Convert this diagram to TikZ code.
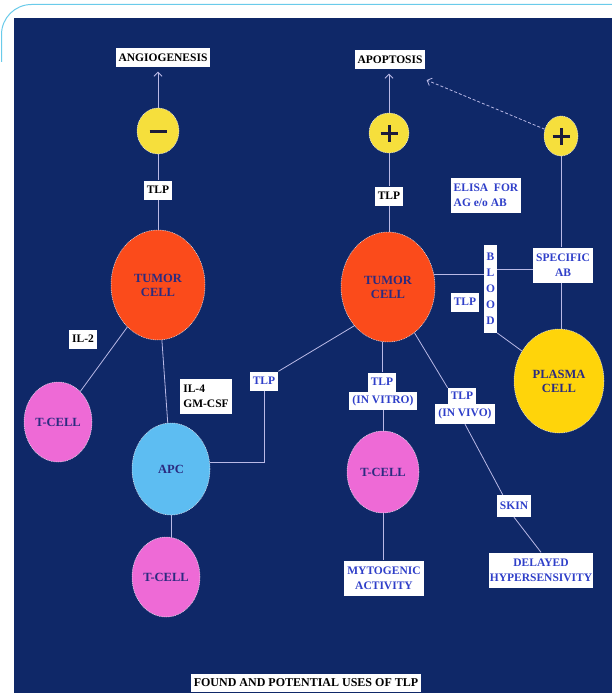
\documentclass[tikz,border=0pt]{standalone}
\usepackage{fontspec}
\setmainfont{Liberation Serif}
\usetikzlibrary{shapes.geometric,arrows.meta}
\definecolor{bg}{HTML}{0F2868}
\definecolor{framec}{HTML}{6ACBEA}
\definecolor{tumorc}{HTML}{FB4B1B}
\definecolor{signy}{HTML}{F6DF3C}
\definecolor{plasmay}{HTML}{FFD40A}
\definecolor{pinkc}{HTML}{EE6AD6}
\definecolor{apcc}{HTML}{5DBDF2}
\definecolor{linec}{HTML}{B9B9E6}
\definecolor{celltext}{HTML}{2B2B80}
\definecolor{lbltext}{HTML}{2F3FC9}
\definecolor{signc}{HTML}{1C1C3A}
\begin{document}
\begin{tikzpicture}[x=1pt,y=-1pt,
  cell/.style={ellipse, draw=white!88!bg, line width=0.5pt, dash pattern=on 1pt off 0.8pt,
    font=\fontsize{12.5}{14}\selectfont\bfseries, text=celltext, inner sep=0pt, align=center},
  lbl/.style={fill=white, font=\fontsize{11.5}{15}\selectfont\bfseries, inner xsep=3pt, inner ysep=3pt, minimum height=19pt},
  blk/.style={lbl, text=black},
  blu/.style={lbl, text=lbltext},
  two/.style={minimum height=35pt},
  con/.style={draw=linec, line width=0.8pt},
  arr/.style={con, -{Straight Barb[length=4pt,width=8pt]}},
  sign/.style={draw=signc, line width=3pt}
]
\useasboundingbox (0,0) rectangle (612,693);
\fill[white] (0,0) rectangle (612,693);
\fill[bg] (14,18) rectangle (612,693);
\draw[framec, line width=1pt, rounded corners=30pt] (1.5,62) -- (1.5,4.5) -- (613,4.5);

% left column
\node[blk] (angio) at (163,58) {ANGIOGENESIS};
\node[cell, fill=signy, minimum width=42pt, minimum height=46pt] (minus) at (158,131) {};
\node[blk] (tlp1) at (158,190) {TLP};
\node[cell, fill=tumorc, minimum width=94pt, minimum height=110pt] (tumorL) at (158,285) {TUMOR\\CELL};
\node[blk] (il2) at (83,339) {IL-2};
\node[cell, fill=pinkc, minimum width=68pt, minimum height=80pt] (tcellL) at (58,422) {T-CELL};
\node[blk, two, align=left] (il4) at (206,396) {IL-4\\GM-CSF};
\node[cell, fill=apcc, minimum width=78pt, minimum height=92pt] (apc) at (171,469) {APC};
\node[cell, fill=pinkc, minimum width=68pt, minimum height=80pt] (tcellB) at (166,577) {T-CELL};
\node[blu] (tlpL) at (264,381) {TLP};

% centre column
\node[blk] (apop) at (390,60) {APOPTOSIS};
\node[cell, fill=signy, minimum width=40pt, minimum height=40pt] (plusC) at (389,133) {};
\node[blk] (tlp2) at (389,196) {TLP};
\node[cell, fill=tumorc, minimum width=94pt, minimum height=110pt] (tumorC) at (388,287) {TUMOR\\CELL};
\node[blu, minimum height=19pt] (vitroT) at (382,382) {TLP};
\node[blu, minimum height=18pt] (vitroB) at (383,401) {(IN VITRO)};
\node[blu, minimum height=16pt] (vivoT) at (462,396) {TLP};
\node[blu, minimum height=20pt] (vivoB) at (465,414) {(IN VIVO)};
\node[cell, fill=pinkc, minimum width=72pt, minimum height=82pt] (tcellC) at (383,472) {T-CELL};
\node[blu, two, align=center] (myto) at (384,578) {MYTOGENIC\\ACTIVITY};
\node[blu, minimum height=22pt] (skin) at (514,506) {SKIN};
\node[blu, two, align=center, inner xsep=1pt] (delayed) at (541,570) {DELAYED\\HYPERSENSIVITY};

% right column
\node[cell, fill=signy, minimum width=34pt, minimum height=40pt] (plusR) at (561,136) {};
\node[blu, two, align=left] (elisa) at (486,195) {ELISA\ \ FOR\\AG e/o AB};
\node[blu, align=center, text width=9pt, inner xsep=2pt, inner ysep=8pt,
      font=\fontsize{11.5}{16}\selectfont\bfseries] (blood) at (490.5,289) {B\\L\\O\\O\\D};
\node[blu] (tlp3) at (465,302) {TLP};
\node[blu, two, align=center] (specab) at (563,265) {SPECIFIC\\AB};
\node[cell, fill=plasmay, minimum width=90pt, minimum height=104pt] (plasma) at (559,381) {PLASMA\\CELL};
\node[blk, font=\fontsize{12}{15}\selectfont\bfseries, minimum height=18pt] (title) at (306,683) {FOUND AND POTENTIAL USES OF TLP};

% signs
\draw[sign] ([xshift=-8.5pt]minus.center) -- ([xshift=8.5pt]minus.center);
\draw[sign] ([xshift=-8.5pt]plusC.center) -- ([xshift=8.5pt]plusC.center);
\draw[sign] ([yshift=-8.5pt]plusC.center) -- ([yshift=8.5pt]plusC.center);
\draw[sign] ([xshift=-8.5pt]plusR.center) -- ([xshift=8.5pt]plusR.center);
\draw[sign] ([yshift=-8.5pt]plusR.center) -- ([yshift=8.5pt]plusR.center);

% connectors left
\draw[arr, shorten >=4pt] (minus.north) -- (minus.north |- angio.south);
\draw[con] (minus.south) -- (tlp1.north);
\draw[con] (tlp1.south) -- (tumorL.north);
\draw[con] (tumorL) -- (tcellL);
\draw[con] (tumorL) -- (apc);
\draw[con] (apc.10) -| (tlpL.south);
\draw[con] (tlpL.north east) -- (tumorC.229);
\draw[con] (apc.south) -- (apc.south |- tcellB.north);

% connectors centre
\draw[arr, shorten >=4pt] (plusC.north) -- (plusC.north |- apop.south);
\draw[con] (plusC.south) -- (tlp2.north);
\draw[con] (tlp2.south) -- (tlp2.south |- tumorC.north);
\draw[con] (vitroT.north) -- (vitroT.north |- tumorC.south);
\draw[con] (vitroB.south) -- (vitroB.south |- tcellC.north);
\draw[con] (tcellC.south) -- (tcellC.south |- myto.north);
\draw[con] (tumorC.-60) -- (vivoT.north west);
\draw[con] (vivoB.south) -- ([xshift=6pt]skin.north west);
\draw[con] (skin.south) -- (delayed.north);

% connectors right
\draw[arr, densely dashed, shorten >=1pt] (plusR) -- ([yshift=-10pt]apop.south east);
\draw[con] (plusR.south) -- (plusR.south |- specab.north);
\draw[con] (plusR.south |- specab.south) -- (plusR.south |- plasma.north);
\draw[con] (tumorC.15) -- (tumorC.15 -| blood.west);
\draw[con] ([yshift=-4pt]specab.west -| blood.east) -- ([yshift=-4pt]specab.west);
\draw[con] (blood.south east) -- (plasma.141);
\end{tikzpicture}
\end{document}
